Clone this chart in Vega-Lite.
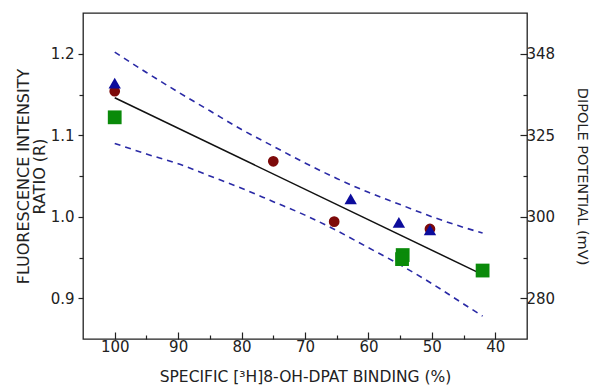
{
  "$schema": "https://vega.github.io/schema/vega-lite/v6.json",
  "width": 444,
  "height": 326,
  "autosize": {"type": "none"},
  "padding": {"left": 83, "top": 13, "right": 65, "bottom": 47},
  "background": "white",
  "config": {
    "view": {"stroke": "#222", "strokeWidth": 1.3},
    "axis": {
      "labelFont": "DejaVu Sans", "titleFont": "DejaVu Sans",
      "labelFontSize": 15, "titleFontSize": 15, "titleFontWeight": "normal",
      "labelColor": "#222", "titleColor": "#222", "tickColor": "#222",
      "tickWidth": 1.2, "domain": false, "grid": false
    }
  },
  "datasets": {
    "points": [
      {"series": "circle", "x": 100, "y": 1.154},
      {"series": "circle", "x": 75, "y": 1.068},
      {"series": "circle", "x": 65.4, "y": 0.994},
      {"series": "circle", "x": 50.3, "y": 0.985},
      {"series": "triangle", "x": 100, "y": 1.164},
      {"series": "triangle", "x": 62.8, "y": 1.022},
      {"series": "triangle", "x": 55.2, "y": 0.993},
      {"series": "triangle", "x": 50.3, "y": 0.984},
      {"series": "square", "x": 100, "y": 1.122},
      {"series": "square", "x": 54.6, "y": 0.953},
      {"series": "square", "x": 54.7, "y": 0.948},
      {"series": "square", "x": 42, "y": 0.934}
    ],
    "fit": [
      {"x": 100, "y": 1.146},
      {"x": 42, "y": 0.929}
    ],
    "upper": [
      {"x": 100, "y": 1.202}, {"x": 95, "y": 1.177}, {"x": 90, "y": 1.153},
      {"x": 85, "y": 1.130}, {"x": 80, "y": 1.107}, {"x": 75, "y": 1.0865},
      {"x": 70, "y": 1.066}, {"x": 65, "y": 1.047}, {"x": 60, "y": 1.030},
      {"x": 55, "y": 1.015}, {"x": 50, "y": 1.000}, {"x": 45, "y": 0.987},
      {"x": 42, "y": 0.980}
    ],
    "lower": [
      {"x": 100, "y": 1.090}, {"x": 95, "y": 1.077}, {"x": 90, "y": 1.065},
      {"x": 85, "y": 1.050}, {"x": 80, "y": 1.035}, {"x": 75, "y": 1.0185},
      {"x": 70, "y": 1.002}, {"x": 65, "y": 0.983}, {"x": 60, "y": 0.962},
      {"x": 55, "y": 0.941}, {"x": 50, "y": 0.918}, {"x": 45, "y": 0.893},
      {"x": 42, "y": 0.878}
    ]
  },
  "layer": [
    {
      "data": {"name": "upper"},
      "mark": {"type": "line", "color": "#2a2aa6", "strokeWidth": 1.6, "strokeDash": [6, 5], "interpolate": "monotone"},
      "encoding": {
        "x": {"field": "x", "type": "quantitative",
              "scale": {"domain": [35, 105], "reverse": true, "nice": false, "zero": false},
              "axis": null},
        "y": {"field": "y", "type": "quantitative",
              "scale": {"domain": [0.85, 1.25], "nice": false, "zero": false},
              "axis": {"orient": "left", "values": [0.95, 1.05, 1.15], "tickSize": 4, "labels": false, "title": null}}
      }
    },
    {
      "data": {"name": "lower"},
      "mark": {"type": "line", "color": "#2a2aa6", "strokeWidth": 1.6, "strokeDash": [6, 5], "interpolate": "monotone"},
      "encoding": {
        "x": {"field": "x", "type": "quantitative",
              "scale": {"domain": [35, 105], "reverse": true, "nice": false, "zero": false},
              "axis": null},
        "y": {"field": "y", "type": "quantitative",
              "scale": {"domain": [0.85, 1.25], "nice": false, "zero": false},
              "axis": {"orient": "right", "values": [0.95, 1.05, 1.15], "tickSize": -4, "labels": false, "title": null}}
      }
    },
    {
      "data": {"name": "fit"},
      "mark": {"type": "line", "color": "#111", "strokeWidth": 1.5},
      "encoding": {
        "x": {"field": "x", "type": "quantitative",
              "scale": {"domain": [35, 105], "reverse": true, "nice": false, "zero": false},
              "axis": {"orient": "bottom", "values": [95, 85, 75, 65, 55, 45], "tickSize": -4, "labels": false, "title": null}},
        "y": {"field": "y", "type": "quantitative",
              "scale": {"domain": [0.85, 1.25], "nice": false, "zero": false},
              "axis": {"orient": "right", "values": [0.9, 1.0, 1.1, 1.2], "tickSize": -7, "labelPadding": 6,
                       "labelExpr": "datum.value > 1.15 ? '348' : datum.value > 1.05 ? '325' : datum.value > 0.95 ? '300' : '280'",
                       "title": "DIPOLE POTENTIAL (mV)", "titleFontSize": 14.5, "titlePadding": 20}}
      }
    },
    {
      "data": {"name": "points"},
      "mark": {"type": "point", "filled": true, "opacity": 1},
      "encoding": {
        "x": {"field": "x", "type": "quantitative",
              "scale": {"domain": [35, 105], "reverse": true, "nice": false, "zero": false},
              "axis": {"orient": "bottom", "values": [100, 90, 80, 70, 60, 50, 40], "tickSize": -7, "labelPadding": 7,
                       "title": "SPECIFIC [³H]8-OH-DPAT BINDING (%)", "titleFontSize": 15.5, "titlePadding": 15}},
        "y": {"field": "y", "type": "quantitative",
              "scale": {"domain": [0.85, 1.25], "nice": false, "zero": false},
              "axis": {"orient": "left", "values": [0.9, 1.0, 1.1, 1.2], "format": ".1f", "tickSize": 5, "labelPadding": 4,
                       "title": ["FLUORESCENCE INTENSITY", "RATIO (R)"], "titleFontSize": 16, "titleLineHeight": 15.5, "titlePadding": 3}},
        "shape": {"field": "series", "type": "nominal",
                  "scale": {"domain": ["circle", "triangle", "square"], "range": ["circle", "triangle-up", "square"]},
                  "legend": null},
        "color": {"field": "series", "type": "nominal",
                  "scale": {"domain": ["circle", "triangle", "square"], "range": ["#7d0a0a", "#0c0c9c", "#0a8a0a"]},
                  "legend": null},
        "size": {"field": "series", "type": "nominal",
                 "scale": {"domain": ["circle", "triangle", "square"], "range": [115, 190, 82]},
                 "legend": null}
      }
    }
  ],
  "resolve": {"axis": {"x": "independent", "y": "independent"}}
}
